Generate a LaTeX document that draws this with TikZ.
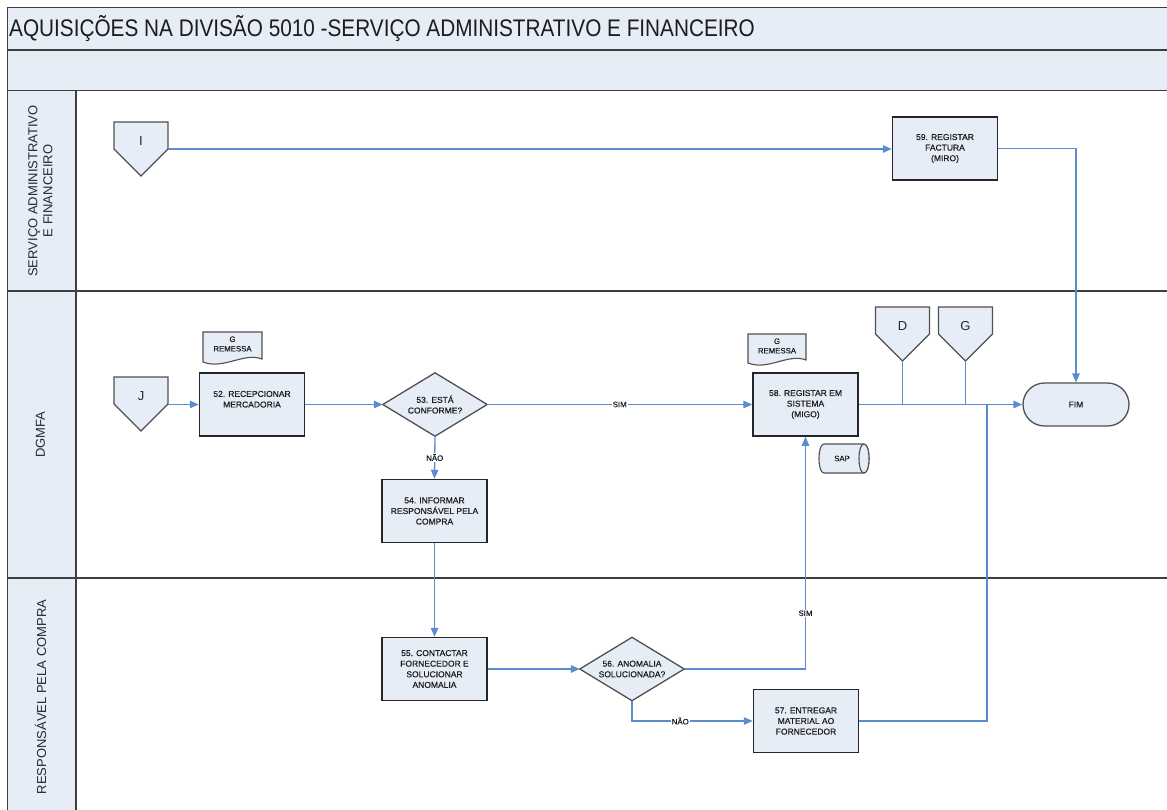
\documentclass[tikz,border=0pt]{standalone}
\usepackage{fontspec}
\setmainfont{Liberation Sans}
\newfontfamily\titlefont[FakeStretch=0.865]{Liberation Sans}
\newfontfamily\flowface[FakeBold=0.35]{Liberation Sans}
\usetikzlibrary{arrows.meta,calc}

\definecolor{bandfill}{RGB}{230,237,247}
\definecolor{framecol}{RGB}{62,62,62}
\definecolor{flowblue}{RGB}{92,139,208}
\definecolor{boxline}{RGB}{38,38,38}
\definecolor{shapeline}{RGB}{80,80,80}
\definecolor{txt}{RGB}{28,28,28}
\definecolor{lanetxt}{RGB}{34,40,60}

\newcommand\flowfont{\flowface\fontsize{8.5}{10.6}\selectfont}
\newcommand\smallfont{\flowface\fontsize{7.8}{9.5}\selectfont}

% off-page connector: name, centre x, top y, letter
\newcommand\offpageconn[4]{%
  \draw[offpage] (#2-27,#3) -- (#2+27,#3) -- (#2+27,#3+27) -- (#2,#3+54) -- (#2-27,#3+27) -- cycle;
  \node[offtext] (#1) at (#2,#3+19) {#4};
  \coordinate (#1-side) at (#2+27,#3+27);
  \coordinate (#1-tip) at (#2,#3+54);
}
% document symbol: name, left x, top y, right x, bottom y
\newcommand\docsymbol[5]{%
  \draw[docline] (#2,#3) -- (#4,#3) -- (#4,#5-4)
    .. controls (#4-18,#5-11) and (#2+20,#5+7) .. (#2,#5-1) -- cycle;
  \node[doctext] (#1) at ({(#2+#4)/2},#3+12) {G\\REMESSA};
}

\tikzset{
  frame/.style={draw=framecol, line width=1.8pt},
  process/.style={draw=boxline, line width=1.5pt, fill=bandfill, minimum width=105,
    minimum height=63, inner sep=1pt, align=center, font=\flowfont, text=txt},
  decisionbox/.style={minimum width=104, minimum height=63, inner sep=0pt,
    align=center, font=\flowfont, text=txt},
  decisionline/.style={draw=shapeline, line width=1.3pt, fill=bandfill},
  offpage/.style={draw=shapeline, line width=1.3pt, fill=bandfill, line join=miter},
  offtext/.style={inner sep=0pt, font=\fontsize{13}{14}\selectfont, text=lanetxt},
  docline/.style={draw=shapeline, line width=1.1pt, fill=bandfill},
  doctext/.style={inner sep=0pt, align=center, font=\smallfont, text=txt},
  terminal/.style={draw=shapeline, line width=1.3pt, fill=bandfill, rounded corners=21.5pt,
    minimum width=106, minimum height=43, font=\flowfont, text=txt},
  flow/.style={draw=flowblue, line width=1.3pt},
  arrowflow/.style={flow, -{Triangle[length=9pt,width=7.5pt]}},
  flowlabel/.style={fill=white, inner sep=1pt, font=\smallfont, text=txt},
  lanelabel/.style={rotate=90, align=center, inner sep=0pt,
    font=\fontsize{13}{15}\selectfont, text=lanetxt},
}

\begin{document}
\begin{tikzpicture}[x=1pt,y=-1pt]
\useasboundingbox (0,0) rectangle (1167,809);
\clip (0,0) rectangle (1167,809);

% pool header, lane label column and lane separators
\fill[bandfill] (7.5,7.5) rectangle (1180,90.5);
\fill[bandfill] (7.5,90.5) rectangle (76,820);
\draw[frame] (1180,7.5) -- (7.5,7.5) -- (7.5,820);
\draw[frame] (7.5,50) -- (1180,50);
\draw[frame] (7.5,90.5) -- (1180,90.5);
\draw[frame] (7.5,291) -- (1180,291);
\draw[frame] (7.5,578) -- (1180,578);
\draw[frame] (76,90.5) -- (76,820);

\node[anchor=west, inner sep=0pt, text=txt, font=\titlefont\fontsize{24}{27}\selectfont]
  (title) at (9,29) {AQUISIÇÕES NA DIVISÃO 5010 -SERVIÇO ADMINISTRATIVO E FINANCEIRO};

\node[lanelabel] (lane1) at (40.5,191) {SERVIÇO ADMINISTRATIVO\\E FINANCEIRO};
\node[lanelabel] (lane2) at (40.5,434.5) {DGMFA};
\node[lanelabel] (lane3) at (40.5,697) {RESPONSÁVEL PELA COMPRA};

% off-page connectors
\offpageconn{I}{141}{122}{I}
\offpageconn{J}{141}{377}{J}
\offpageconn{D}{902.5}{307}{D}
\offpageconn{G}{965.5}{307}{G}

% documents
\docsymbol{doc52}{203}{332}{262}{363}
\docsymbol{doc58}{748}{334}{806}{364}

% process steps
\node[process] (p52) at (252,404.5) {52. RECEPCIONAR\\MERCADORIA\\\mbox{}};
\node[process] (p54) at (434.5,511) {54. INFORMAR\\RESPONSÁVEL PELA\\COMPRA};
\node[process] (p55) at (434.5,669) {55. CONTACTAR\\FORNECEDOR E\\SOLUCIONAR\\ANOMALIA};
\node[process] (p57) at (806,721) {57. ENTREGAR\\MATERIAL AO\\FORNECEDOR};
\node[process] (p58) at (805.5,404.5) {58. REGISTAR EM\\SISTEMA\\(MIGO)};
\node[process] (p59) at (945,148.5) {59. REGISTAR\\FACTURA\\(MIRO)};

% decisions
\node[decisionbox] (d53) at (435,404.5) {};
\draw[decisionline] (d53.west) -- (d53.north) -- (d53.east) -- (d53.south) -- cycle;
\node[align=center, font=\flowfont, text=txt, inner sep=0pt] (t53) at (d53) {53. ESTÁ\\CONFORME?};
\node[decisionbox] (d56) at (632,669) {};
\draw[decisionline] (d56.west) -- (d56.north) -- (d56.east) -- (d56.south) -- cycle;
\node[align=center, font=\flowfont, text=txt, inner sep=0pt] (t56) at (d56) {56. ANOMALIA\\SOLUCIONADA?};

% SAP data store (horizontal cylinder, open end on the right)
\draw[decisionline, line width=1.1pt]
  (824,444) -- (864,444)
  .. controls (870.7,444) and (870.7,473) .. (864,473)
  -- (824,473)
  .. controls (817.3,473) and (817.3,444) .. (824,444) -- cycle;
\draw[decisionline, line width=1.1pt]
  (864,444) .. controls (857.3,444) and (857.3,473) .. (864,473)
  .. controls (870.7,473) and (870.7,444) .. (864,444);
\node[minimum width=40, minimum height=29, inner sep=0pt, font=\smallfont, text=txt] (sap) at (842,458.5) {SAP};

% end
\node[terminal] (fim) at (1076,404.5) {FIM};

% flow
\draw[arrowflow] (I-side) -- (I-side -| p59.west);
\draw[arrowflow] (p59.east) -| (fim.north);
\draw[arrowflow] (J-side |- p52.west) -- (p52.west);
\draw[arrowflow] (p52.east) -- (d53.west);
\draw[arrowflow] (d53.east) -- node[flowlabel] {SIM} (p58.west);
\draw[arrowflow] (d53.south) -- node[flowlabel] {NÃO} (p54.north);
\draw[arrowflow] (p54.south) -- (p55.north);
\draw[arrowflow] (p55.east) -- (d56.west);
\draw[arrowflow] (d56.east) -| node[flowlabel, pos=0.62] {SIM} (p58.south);
\draw[arrowflow] (d56.south) |- node[flowlabel, pos=0.70] {NÃO} (p57.west);
\coordinate (merge) at (987,404.5);
\draw[flow] (p57.east) -| (merge);
\draw[arrowflow] (p58.east) -- (fim.west);
\draw[flow] (D-tip) -- (D-tip |- p58.east);
\draw[flow] (G-tip) -- (G-tip |- p58.east);
\end{tikzpicture}
\end{document}
